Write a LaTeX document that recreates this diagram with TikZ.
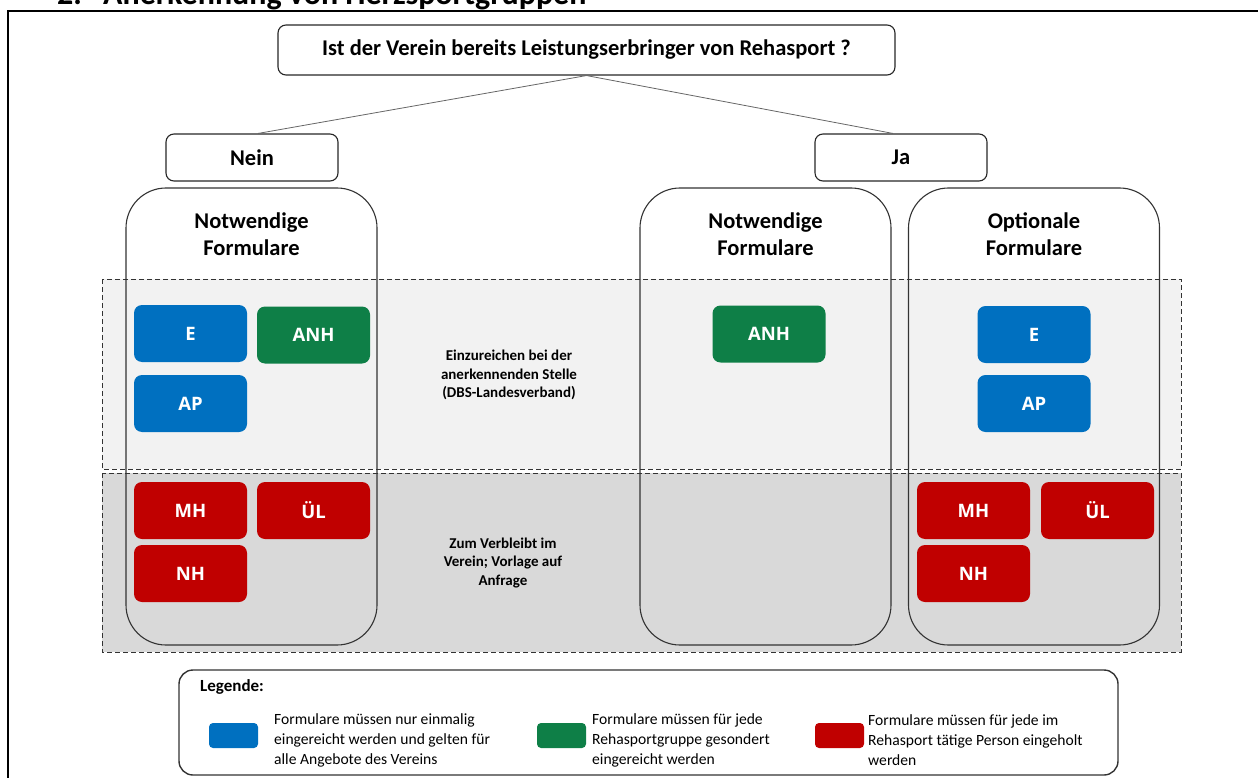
\documentclass[tikz,border=0pt]{standalone}
\usepackage{fontspec}
\usepackage{xcolor}
\setmainfont{Carlito}
\newfontfamily\formfont{Open Sans}
\definecolor{formblau}{HTML}{0070C0}
\definecolor{formgruen}{HTML}{0E7F47}
\definecolor{formrot}{HTML}{C00000}
\definecolor{bandhell}{HTML}{F2F2F2}
\definecolor{banddunkel}{HTML}{D9D9D9}
\tikzset{
	kasten/.style={draw=black!85, line width=1.1pt, rounded corners=8pt, font=\bfseries\fontsize{22.5}{26}\selectfont},
	spalte/.style={draw=black!80, line width=1.1pt, rounded corners=40pt, minimum width=251pt, minimum height=457pt},
	titel/.style={align=center, font=\bfseries\fontsize{22.5}{27}\selectfont},
	formular/.style={rounded corners=8pt, minimum width=113pt, minimum height=57pt, text=white, font=\formfont\bfseries\fontsize{18.5}{22}\selectfont},
	band/.style={draw=black!80, dashed, dash pattern=on 5pt off 3pt, line width=0.9pt},
	hinweis/.style={align=center, font=\bfseries\fontsize{15}{18.5}\selectfont},
	farbe/.style={rounded corners=4pt, minimum width=49pt, minimum height=25pt},
	legtext/.style={anchor=west, align=left, font=\fontsize{15.6}{20}\selectfont}
}
\begin{document}
\begin{tikzpicture}[x=1pt,y=-1pt]
	\useasboundingbox (0,0) rectangle (1258,778);
	\clip (0,0) rectangle (1258,778);
	% Ueberschrift und Rahmen
	\node[anchor=base west, inner sep=0pt, font=\bfseries\fontsize{32}{36}\selectfont] at (57,5) (nr) {2.};
	\node[anchor=base west, inner sep=0pt, font=\bfseries\fontsize{32}{36}\selectfont] at (103,5) (kopf) {Anerkennung von Herzsportgruppen};
	\draw[line width=1.4pt] (8,800) -- (8,11) -- (1270,11);
	% Baender
	\filldraw[band, fill=bandhell] (102,279) rectangle (1181,469);
	\filldraw[band, fill=banddunkel] (102,473) rectangle (1181,652);
	\node[hinweis] at (509,375) (einreichen) {Einzureichen bei der\\anerkennenden Stelle\\(DBS-Landesverband)};
	\node[hinweis] at (503,563) (verbleib) {Zum Verbleibt im\\Verein; Vorlage auf\\Anfrage};
	% Frage
	\node[kasten, minimum width=617pt, minimum height=50pt] at (586.5,50) (frage) {Ist der Verein bereits Leistungserbringer von Rehasport ?};
	\node[kasten, minimum width=172pt, minimum height=47pt] at (252,157.5) (nein) {Nein};
	\node[kasten, minimum width=172pt, minimum height=47pt] at (901,157.5) (ja) {Ja};
	\draw[black!60, line width=0.8pt] (frage.south) -- ([xshift=6pt]nein.north);
	\draw[black!60, line width=0.8pt] (frage.south) -- ([xshift=-8pt]ja.north);
	% Spalten
	\node[spalte] at (251.5,416.5) (links) {};
	\node[spalte] at (765.5,416.5) (mitte) {};
	\node[spalte] at (1034,416.5) (rechts) {};
	\node[titel] at (251.5,234.5) (t1) {Notwendige\\Formulare};
	\node[titel] at (765.5,234.5) (t2) {Notwendige\\Formulare};
	\node[titel] at (1034,234.5) (t3) {Optionale\\Formulare};
	% Formulare
	\node[formular, fill=formblau] at (190.5,333.5) (e1) {E};
	\node[formular, fill=formblau] at (190.5,403.5) (ap1) {AP};
	\node[formular, fill=formgruen] at (313.5,335) (anh1) {ANH};
	\node[formular, fill=formrot] at (190.5,510.5) (mh1) {MH};
	\node[formular, fill=formrot] at (313.5,510.5) (ul1) {ÜL};
	\node[formular, fill=formrot] at (190.5,573.5) (nh1) {NH};
	\node[formular, fill=formgruen] at (769,334) (anh2) {ANH};
	\node[formular, fill=formblau] at (1034,334.5) (e3) {E};
	\node[formular, fill=formblau] at (1034,403.5) (ap3) {AP};
	\node[formular, fill=formrot] at (973.5,510.5) (mh3) {MH};
	\node[formular, fill=formrot] at (1097.5,510.5) (ul3) {ÜL};
	\node[formular, fill=formrot] at (973.5,573.5) (nh3) {NH};
	% Legende
	\node[draw=black!80, line width=1.4pt, rounded corners=14pt, minimum width=939pt, minimum height=105pt] at (648.5,722.5) (legende) {};
	\node[anchor=west, inner sep=0pt, font=\bfseries\fontsize{17}{20}\selectfont] at (200,687) (legkopf) {Legende:};
	\node[farbe, fill=formblau] at (233.5,735.5) (f1) {};
	\node[farbe, fill=formgruen] at (561.5,735.5) (f2) {};
	\node[farbe, fill=formrot] at (839.5,735.5) (f3) {};
	\node[legtext, inner sep=0pt] at (274,740) (l1) {Formulare müssen nur einmalig\\eingereicht werden und gelten für\\alle Angebote des Vereins};
	\node[legtext, inner sep=0pt] at (592,740) (l2) {Formulare müssen für jede\\Rehasportgruppe gesondert\\eingereicht werden};
	\node[legtext, inner sep=0pt] at (868,740) (l3) {Formulare müssen für jede im\\Rehasport tätige Person eingeholt\\werden};
\end{tikzpicture}
\end{document}
